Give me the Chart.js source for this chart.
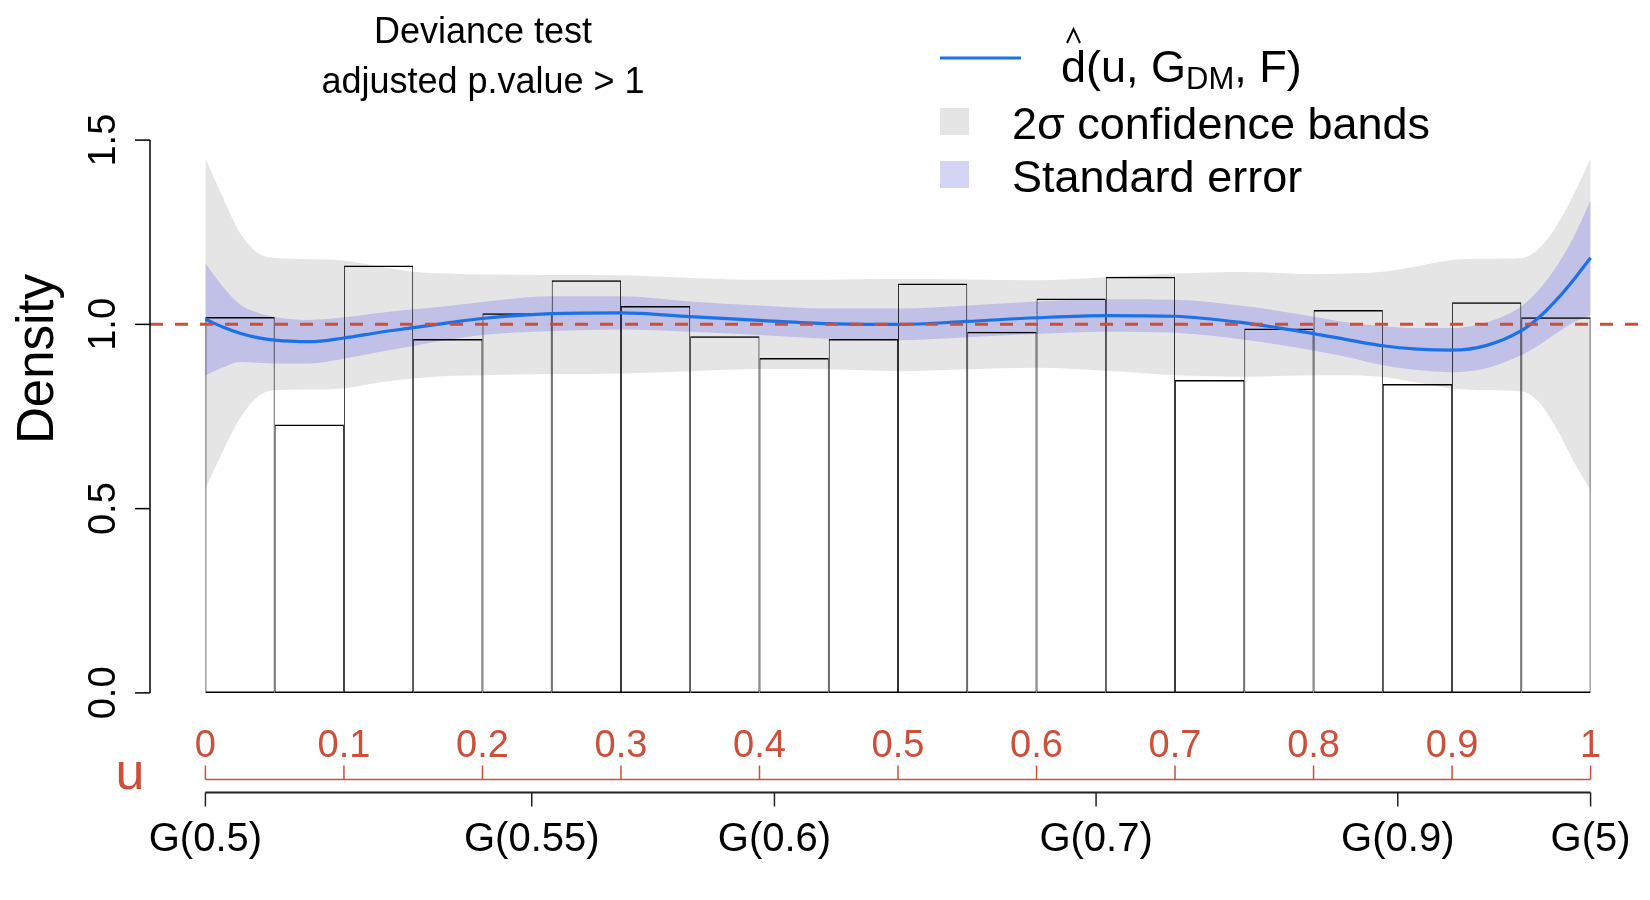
<!DOCTYPE html>
<html>
<head>
<meta charset="utf-8">
<script src="https://cdn.jsdelivr.net/npm/chart.js@4.4.1/dist/chart.umd.min.js"></script>
<style>
  html, body { margin: 0; padding: 0; background: #ffffff; }
  #wrap { width: 1650px; height: 900px; position: relative; }
</style>
</head>
<body>
<div id="wrap"><canvas id="c"></canvas></div>
<script>
// ---------------- data ----------------
const binMids = [0.025, 0.075, 0.125, 0.175, 0.225, 0.275, 0.325, 0.375, 0.425, 0.475,
                 0.525, 0.575, 0.625, 0.675, 0.725, 0.775, 0.825, 0.875, 0.925, 0.975];
const binWidth = 0.05;
const densities = [1.02, 0.728, 1.16, 0.96, 1.03, 1.12, 1.05, 0.968, 0.909, 0.96,
                   1.111, 0.98, 1.07, 1.129, 0.849, 0.989, 1.039, 0.838, 1.06, 1.019];

const uGrid = [0, 0.0125, 0.025, 0.0375, 0.05, 0.075, 0.1, 0.125, 0.15, 0.175, 0.2, 0.25, 0.3, 0.35,
               0.4, 0.45, 0.5, 0.55, 0.6, 0.65, 0.7, 0.75, 0.8, 0.825, 0.85, 0.875, 0.9, 0.925,
               0.95, 0.9625, 0.975, 0.9875, 1.0];
const dHat = [1.014, 0.993, 0.976, 0.964, 0.957, 0.953, 0.963, 0.978, 0.991, 1.004, 1.016, 1.029, 1.031, 1.021,
              1.011, 1.002, 1.000, 1.008, 1.018, 1.024, 1.022, 1.004, 0.975, 0.958, 0.942, 0.933, 0.930, 0.943,
              0.983, 1.018, 1.065, 1.120, 1.181];
const seUpper = [1.166, 1.103, 1.054, 1.032, 1.020, 1.012, 1.019, 1.031, 1.041, 1.050, 1.061, 1.076, 1.076, 1.062,
                 1.051, 1.043, 1.043, 1.051, 1.062, 1.068, 1.067, 1.050, 1.021, 1.005, 0.995, 0.990, 0.990, 1.005,
                 1.049, 1.093, 1.155, 1.235, 1.337];
const seLower = [0.862, 0.883, 0.898, 0.896, 0.894, 0.894, 0.907, 0.925, 0.941, 0.958, 0.971, 0.982, 0.986, 0.980,
                 0.971, 0.961, 0.957, 0.965, 0.974, 0.980, 0.977, 0.958, 0.929, 0.911, 0.889, 0.876, 0.870, 0.881,
                 0.917, 0.943, 0.975, 1.005, 1.025];
const bandUpper = [1.451, 1.345, 1.248, 1.195, 1.180, 1.177, 1.173, 1.157, 1.143, 1.138, 1.135, 1.134, 1.133, 1.126,
                   1.121, 1.121, 1.123, 1.122, 1.120, 1.128, 1.138, 1.142, 1.136, 1.138, 1.143, 1.158, 1.175, 1.178,
                   1.180, 1.205, 1.265, 1.350, 1.451];
const bandLower = [0.554, 0.655, 0.745, 0.803, 0.821, 0.823, 0.826, 0.842, 0.853, 0.860, 0.862, 0.865, 0.867, 0.873,
                   0.879, 0.878, 0.873, 0.878, 0.882, 0.874, 0.862, 0.858, 0.862, 0.862, 0.857, 0.842, 0.826, 0.821,
                   0.818, 0.790, 0.720, 0.630, 0.550];

const refLevel = 1.0;
const yTicks = [0, 0.5, 1.0, 1.5];
const yTickLabels = ['0.0', '0.5', '1.0', '1.5'];
const uTicks = [0, 0.1, 0.2, 0.3, 0.4, 0.5, 0.6, 0.7, 0.8, 0.9, 1];
const uTickLabels = ['0', '0.1', '0.2', '0.3', '0.4', '0.5', '0.6', '0.7', '0.8', '0.9', '1'];
const gTickPos = [0, 0.2356, 0.4108, 0.643, 0.8608, 1];
const gTickLabels = ['G(0.5)', 'G(0.55)', 'G(0.6)', 'G(0.7)', 'G(0.9)', 'G(5)'];
const titleLines = ['Deviance test', 'adjusted p.value > 1'];

// ---------------- styles ----------------
const FONT = '"Liberation Sans", Arial, Helvetica, sans-serif';
const RED = '#CD4F39';
const BLUE = '#1B72E8';
const GREY_BAND = '#E6E5E6';
const SE_BAND = '#C1C0E6';
const SE_LEGEND = '#D4D4F4';

const pts = (xs, ys) => xs.map((v, i) => ({ x: v, y: ys[i] }));

const overlay = {
  id: 'overlay',
  afterDraw(chart) {
    const ctx = chart.ctx;
    const xs = chart.scales.x, ys = chart.scales.y;
    ctx.save();
    // y axis
    const yAxisX = 150;
    ctx.strokeStyle = '#000';
    ctx.lineWidth = 1.5;
    ctx.beginPath();
    ctx.moveTo(yAxisX, ys.getPixelForValue(yTicks[0]));
    ctx.lineTo(yAxisX, ys.getPixelForValue(yTicks[yTicks.length - 1]));
    ctx.stroke();
    yTicks.forEach((v, i) => {
      const py = ys.getPixelForValue(v);
      ctx.beginPath();
      ctx.moveTo(yAxisX - 15, py);
      ctx.lineTo(yAxisX, py);
      ctx.stroke();
      ctx.save();
      ctx.translate(115, py);
      ctx.rotate(-Math.PI / 2);
      ctx.fillStyle = '#000';
      ctx.font = '38px ' + FONT;
      ctx.textAlign = 'center';
      ctx.textBaseline = 'alphabetic';
      ctx.fillText(yTickLabels[i], 0, 0);
      ctx.restore();
    });
    // y title
    ctx.save();
    ctx.translate(53, 359);
    ctx.rotate(-Math.PI / 2);
    ctx.fillStyle = '#000';
    ctx.font = '51px ' + FONT;
    ctx.textAlign = 'center';
    ctx.fillText('Density', 0, 0);
    ctx.restore();

    // u axis (red)
    const uY = 779.5;
    ctx.strokeStyle = RED;
    ctx.lineWidth = 1.5;
    ctx.beginPath();
    ctx.moveTo(xs.getPixelForValue(uTicks[0]), uY);
    ctx.lineTo(xs.getPixelForValue(uTicks[uTicks.length - 1]), uY);
    ctx.stroke();
    ctx.fillStyle = RED;
    ctx.font = '38px ' + FONT;
    ctx.textAlign = 'center';
    uTicks.forEach((v, i) => {
      const px = xs.getPixelForValue(v);
      ctx.beginPath();
      ctx.moveTo(px, uY);
      ctx.lineTo(px, uY - 14);
      ctx.stroke();
      ctx.fillText(uTickLabels[i], px, 757);
    });
    ctx.font = '52px ' + FONT;
    ctx.fillText('u', 130, 789);

    // G axis (black)
    const gY = 792.5;
    ctx.strokeStyle = '#222';
    ctx.lineWidth = 2;
    ctx.beginPath();
    ctx.moveTo(xs.getPixelForValue(gTickPos[0]), gY);
    ctx.lineTo(xs.getPixelForValue(gTickPos[gTickPos.length - 1]), gY);
    ctx.stroke();
    ctx.lineWidth = 1.5;
    ctx.fillStyle = '#000';
    ctx.font = '40px ' + FONT;
    gTickPos.forEach((v, i) => {
      const px = xs.getPixelForValue(v);
      ctx.beginPath();
      ctx.moveTo(px, gY);
      ctx.lineTo(px, gY + 14);
      ctx.stroke();
      ctx.fillText(gTickLabels[i], px, 851);
    });

    // title
    ctx.fillStyle = '#000';
    ctx.font = '36px ' + FONT;
    ctx.textAlign = 'center';
    ctx.fillText(titleLines[0], 483, 43);
    ctx.fillText(titleLines[1], 483, 93);

    // legend
    ctx.strokeStyle = BLUE;
    ctx.lineWidth = 3;
    ctx.beginPath();
    ctx.moveTo(940, 58);
    ctx.lineTo(1021, 58);
    ctx.stroke();
    ctx.fillStyle = GREY_BAND;
    ctx.fillRect(940, 108, 29, 27);
    ctx.fillStyle = SE_LEGEND;
    ctx.fillRect(940, 161, 29, 27);

    ctx.fillStyle = '#000';
    ctx.textAlign = 'left';
    ctx.font = '45px ' + FONT;
    let tx = 1061;
    const base = 82;
    ctx.fillText('d(u, G', tx, base);
    const dW = ctx.measureText('d').width;
    // hat over d
    ctx.strokeStyle = '#000';
    ctx.lineWidth = 2;
    ctx.beginPath();
    ctx.moveTo(tx + dW / 2 - 6.5, 43);
    ctx.lineTo(tx + dW / 2, 29);
    ctx.lineTo(tx + dW / 2 + 6.5, 43);
    ctx.stroke();
    tx += ctx.measureText('d(u, G').width;
    ctx.font = '31px ' + FONT;
    ctx.fillText('DM', tx, base + 7);
    tx += ctx.measureText('DM').width;
    ctx.font = '45px ' + FONT;
    ctx.fillText(', F)', tx, base);
    ctx.fillText('2\u03c3 confidence bands', 1012, 139);
    ctx.fillText('Standard error', 1012, 192);
    ctx.restore();
  }
};

const lineBase = { pointRadius: 0, pointHoverRadius: 0, cubicInterpolationMode: 'monotone' };

new Chart(document.getElementById('c'), {
  type: 'line',
  data: {
    datasets: [
      { // 0 reference dashed line (top)
        ...lineBase,
        data: [{ x: -0.04, y: refLevel }, { x: 1.04, y: refLevel }],
        borderColor: RED, borderWidth: 3, borderDash: [13, 12], fill: false
      },
      { // 1 estimated comparison density
        ...lineBase,
        data: pts(uGrid, dHat),
        borderColor: BLUE, borderWidth: 3.2, fill: false
      },
      { // 2 histogram
        type: 'bar',
        data: pts(binMids, densities),
        backgroundColor: 'rgba(0,0,0,0)',
        borderColor: '#000',
        borderWidth: { top: 1.5, bottom: 1.5, left: 0.8, right: 0.8 },
        borderSkipped: false,
        inflateAmount: 0,
        barPercentage: 1.0,
        categoryPercentage: 1.0
      },
      { // 3 SE upper
        ...lineBase,
        data: pts(uGrid, seUpper),
        borderWidth: 0, borderColor: 'rgba(0,0,0,0)',
        backgroundColor: SE_BAND, fill: '+1'
      },
      { // 4 SE lower
        ...lineBase,
        data: pts(uGrid, seLower),
        borderWidth: 0, borderColor: 'rgba(0,0,0,0)', fill: false
      },
      { // 5 band upper
        ...lineBase,
        data: pts(uGrid, bandUpper),
        borderWidth: 0, borderColor: 'rgba(0,0,0,0)',
        backgroundColor: GREY_BAND, fill: '+1'
      },
      { // 6 band lower
        ...lineBase,
        data: pts(uGrid, bandLower),
        borderWidth: 0, borderColor: 'rgba(0,0,0,0)', fill: false
      }
    ]
  },
  options: {
    responsive: true,
    maintainAspectRatio: false,
    devicePixelRatio: 1,
    animation: false,
    layout: { padding: { left: 150, right: 4, top: 118, bottom: 185 } },
    scales: {
      x: { type: 'linear', min: -0.04, max: 1.04, offset: false, display: false,
           ticks: { stepSize: binWidth, includeBounds: false } },
      y: { type: 'linear', min: -0.06, max: 1.56, display: false }
    },
    plugins: {
      legend: { display: false },
      tooltip: { enabled: false },
      title: { display: false }
    }
  },
  plugins: [overlay]
});
</script>
</body>
</html>
